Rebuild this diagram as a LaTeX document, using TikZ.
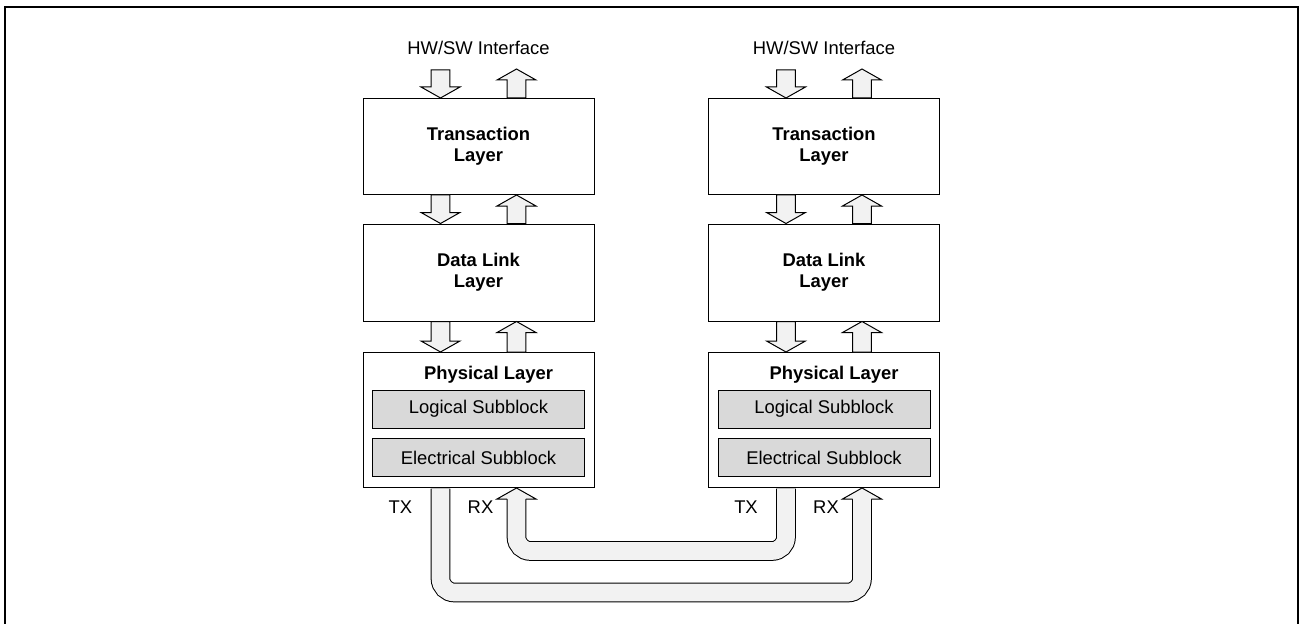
\documentclass[tikz,border=0pt]{standalone}
\usepackage{fontspec}
\setmainfont{Liberation Sans}
\usetikzlibrary{calc, positioning}
\definecolor{arrowfill}{HTML}{F2F2F2}
\definecolor{subfill}{HTML}{D9D9D9}
\newcommand{\diagfont}{\fontsize{13.8}{15.5}\selectfont}
\tikzset{
    layer/.style={draw, line width=0.75pt, fill=white, minimum width=173.25pt, inner sep=0pt, align=center, font=\diagfont\bfseries},
    subblock/.style={draw, line width=0.75pt, fill=subfill, minimum width=159pt, minimum height=28.5pt, inner sep=0pt, font=\diagfont},
    blockarrow/.style={draw, line width=0.75pt, fill=arrowfill, line join=miter},
    pipe/.style={draw, line width=0.75pt, double=arrowfill, double distance=13.25pt, rounded corners=10.5pt},
    pipehead/.style={draw, line width=0.75pt, fill=arrowfill},
    label/.style={inner sep=0pt, font=\diagfont}
}
% fat arrow from #1 to #2, shifted sideways by #3
\newcommand{\fatarrow}[3]{%
    \draw[blockarrow] let \p1=($(#1)+(#3,0)$), \p2=($(#2)+(#3,0)$), \n1={sign(\y1-\y2)} in
        (\x1-7.1pt,\y1) -- (\x1-7.1pt,{\y2+(\n1)*8.25pt}) -- (\x1-14.6pt,{\y2+(\n1)*8.25pt})
        -- (\x2,\y2) -- (\x1+14.6pt,{\y2+(\n1)*8.25pt}) -- (\x1+7.1pt,{\y2+(\n1)*8.25pt})
        -- (\x1+7.1pt,\y1) -- cycle;}
% head of a link pipe, tip at #1 shifted by #2
\newcommand{\pipehead}[2]{%
    \filldraw[pipehead] let \p1=($(#1)+(#2,0)$) in
        (\x1-7pt,\y1-8.25pt) -- (\x1-14.6pt,\y1-8.25pt) -- (\x1,\y1)
        -- (\x1+14.6pt,\y1-8.25pt) -- (\x1+7pt,\y1-8.25pt);}

\begin{document}
\begin{tikzpicture}[x=0.75pt, y=-0.75pt]
    \useasboundingbox (0,0) rectangle (1299,624);
    \clip (0,0) rectangle (1299,624);
    % Frame
    \draw[line width=1.5pt] (5,7) rectangle (1297.8,660);
    % Two protocol stacks
    \foreach \s/\cx in {l/478.5, r/824}{
        \node[label] (hw\s) at (\cx,48) {HW/SW Interface};
        \node[layer, minimum height=72pt, anchor=north] (tl\s) at (\cx,98) {Transaction\\Layer};
        \node[layer, minimum height=72.75pt, anchor=north] (dl\s) at (\cx,223.5) {Data Link\\Layer};
        \node[layer, minimum height=101.25pt, anchor=north] (pl\s) at (\cx,352) {};
        \node[label, font=\diagfont\bfseries] (pt\s) at (\cx+10,375) {Physical Layer};
        \node[subblock] (lsb\s) at (\cx,409) {Logical Subblock};
        \node[subblock] (esb\s) at (\cx,457.5) {Electrical Subblock};
        \node[label] (tx\s) at (\cx-78,507.5) {TX};
        \node[label] (rx\s) at (\cx+2,507.5) {RX};
        % Arrows between layers
        \coordinate (in\s) at ($(tl\s.north)+(0,-28)$);
        \coordinate (out\s) at ($(tl\s.north)+(0,-29)$);
        \fatarrow{in\s}{tl\s.north}{-38}
        \fatarrow{tl\s.north}{out\s}{38}
        \fatarrow{tl\s.south}{dl\s.north}{-38}
        \fatarrow{dl\s.north}{tl\s.south}{38}
        \fatarrow{dl\s.south}{pl\s.north}{-38}
        \fatarrow{pl\s.north}{dl\s.south}{38}
    }
    % Links between the physical layers
    \draw[pipe] ($(pll.south)+(-38,0.5)$) -- ++(0,104) -| ($(plr.south)+(38,11)$);
    \draw[pipe] ($(plr.south)+(-38,0.5)$) -- ++(0,62.5) -| ($(pll.south)+(38,11)$);
    \pipehead{plr.south}{38}
    \pipehead{pll.south}{38}
\end{tikzpicture}
\end{document}
